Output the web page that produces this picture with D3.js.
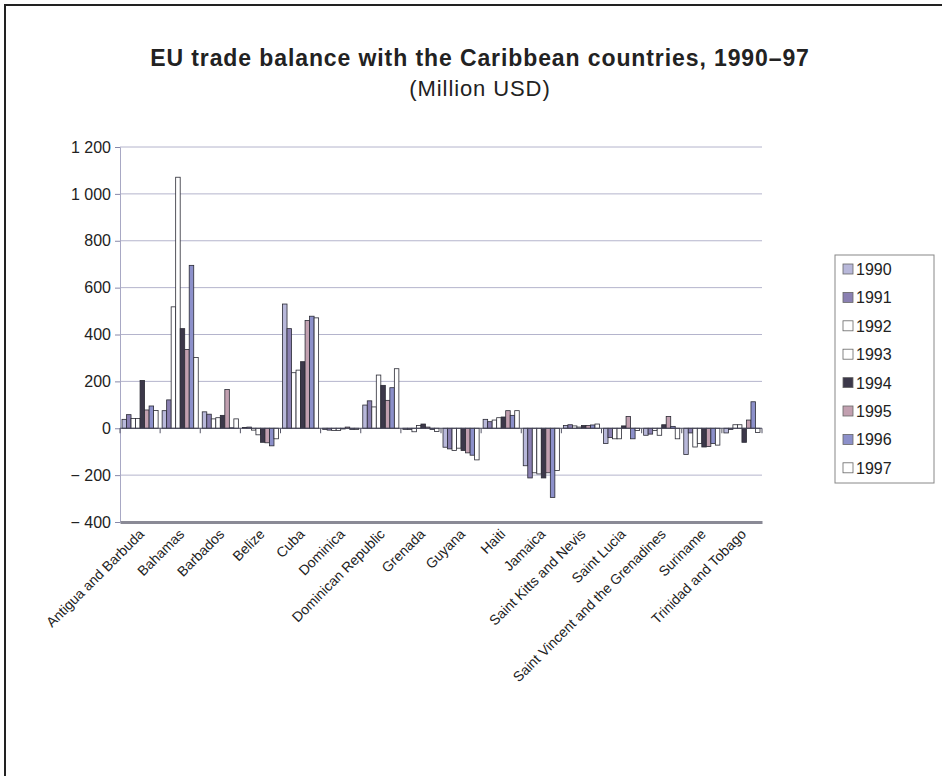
<!DOCTYPE html>
<html>
<head>
<meta charset="utf-8">
<script src="https://cdn.jsdelivr.net/npm/d3@7"></script>
<style>
  html, body { margin: 0; padding: 0; background: #fff; overflow: hidden; }
  svg { display: block; font-family: "Liberation Sans", Arial, sans-serif; }
</style>
</head>
<body>
<svg id="chart" width="942" height="776"></svg>
<script>
// Countries along the category axis
const countries = [
  "Antigua and Barbuda", "Bahamas", "Barbados", "Belize", "Cuba", "Dominica",
  "Dominican Republic", "Grenada", "Guyana", "Haiti", "Jamaica",
  "Saint Kitts and Nevis", "Saint Lucia", "Saint Vincent and the Grenadines",
  "Suriname", "Trinidad and Tobago"
];

const years = ["1990", "1991", "1992", "1993", "1994", "1995", "1996", "1997"];

// Trade balance per year, one value per country (million USD)
const v1990 = [38, 75, 70, 3, 530, -5, 99, -5, -81, 38, -160, 12, -65, -30, -112, -20];
const v1991 = [58, 121, 60, 5, 425, -8, 117, -5, -88, 28, -212, 15, -40, -25, -20, -5];
const v1992 = [42, 518, 40, -8, 237, -10, 91, -15, -95, 35, -190, 10, -45, -10, -80, 15];
const v1993 = [42, 1071, 45, -28, 248, -10, 227, 12, -85, 45, -195, 5, -45, -30, -65, 15];
const v1994 = [204, 425, 55, -60, 284, -3, 183, 18, -95, 48, -212, 12, 10, 15, -80, -60];
const v1995 = [78, 336, 165, -62, 460, 5, 119, 5, -105, 75, -190, 12, 50, 50, -78, 35];
const v1996 = [95, 695, 2, -75, 478, -5, 173, -5, -115, 55, -295, 14, -45, 8, -65, 113];
const v1997 = [76, 302, 40, -45, 471, -5, 254, -14, -135, 75, -180, 18, -10, -45, -72, -18];

const seriesValues = [v1990, v1991, v1992, v1993, v1994, v1995, v1996, v1997];

const yTicks = [-400, -200, 0, 200, 400, 600, 800, 1000, 1200];
const yTickLabels = ["\u2212 400", "\u2212 200", "0", "200", "400", "600", "800", "1 000", "1 200"];

const fills = ["#b8b8da", "#8a80b2", "#ffffff", "#ffffff", "#3c384a", "#c2a0b0", "#8c90ca", "#ffffff"];

const svg = d3.select("#chart");

// Page frame (left and top edges; the rest runs off the page)
svg.append("path")
  .attr("d", "M5,780 V5 H950")
  .attr("fill", "none").attr("stroke", "#222").attr("stroke-width", 2);

// Titles
svg.append("text")
  .attr("x", 480).attr("y", 66)
  .attr("text-anchor", "middle")
  .attr("font-size", 23).attr("font-weight", "bold").attr("fill", "#222")
  .attr("letter-spacing", 0.9)
  .text("EU trade balance with the Caribbean countries, 1990\u201397");
svg.append("text")
  .attr("x", 480).attr("y", 96)
  .attr("text-anchor", "middle")
  .attr("font-size", 22).attr("fill", "#222")
  .attr("letter-spacing", 0.9)
  .text("(Million USD)");

const plotLeft = 120, plotRight = 762, plotTop = 147, plotBottom = 522;

const x0 = d3.scaleBand().domain(countries).range([plotLeft, plotRight])
  .paddingInner(0.1).paddingOuter(0.05);
const x1 = d3.scaleBand().domain(years).range([0, x0.bandwidth()]);
const y = d3.scaleLinear().domain([-400, 1200]).range([plotBottom, plotTop]);

// Horizontal gridlines
svg.append("g").selectAll("line")
  .data(yTicks.filter(t => t !== -400 && t !== 0))
  .join("line")
  .attr("x1", plotLeft).attr("x2", plotRight)
  .attr("y1", d => y(d)).attr("y2", d => y(d))
  .attr("stroke", "#b4b4cc").attr("stroke-width", 1);

// Value axis
const yAxis = d3.axisLeft(y)
  .tickValues(yTicks)
  .tickFormat((d, i) => yTickLabels[i])
  .tickSize(5).tickPadding(4);
const gy = svg.append("g").attr("transform", `translate(${plotLeft},0)`).call(yAxis);
gy.select(".domain").attr("stroke", "#a8a8c4");
gy.selectAll(".tick line").attr("stroke", "#8888a8");
gy.selectAll(".tick text")
  .attr("font-size", 16).attr("fill", "#222")
  .attr("font-family", "Liberation Sans, Arial, sans-serif");

// Bars
const groups = svg.append("g").selectAll("g")
  .data(countries)
  .join("g")
  .attr("transform", d => `translate(${x0(d)},0)`);

groups.selectAll("rect")
  .data((c, ci) => years.map((yr, si) => ({ yr, si, v: seriesValues[si][ci] })))
  .join("rect")
  .attr("x", d => x1(d.yr))
  .attr("width", x1.bandwidth())
  .attr("y", d => y(Math.max(0, d.v)))
  .attr("height", d => Math.abs(y(d.v) - y(0)))
  .attr("fill", d => fills[d.si])
  .attr("stroke", "#2a2a34").attr("stroke-width", 0.8);

// Zero line with category tick marks
svg.append("line")
  .attr("x1", plotLeft).attr("x2", plotRight)
  .attr("y1", y(0)).attr("y2", y(0))
  .attr("stroke", "#444458").attr("stroke-width", 1);
const boundaries = countries.map(c => x0(c) - x0.step() * x0.paddingInner() / 2)
  .concat([plotRight]);
svg.append("g").selectAll("line")
  .data(boundaries)
  .join("line")
  .attr("x1", d => d).attr("x2", d => d)
  .attr("y1", y(0)).attr("y2", y(0) + 5)
  .attr("stroke", "#555566");

// Bottom category axis
const xAxis = d3.axisBottom(x0).tickSize(0).tickPadding(0);
const gx = svg.append("g").attr("transform", `translate(0,${plotBottom})`).call(xAxis);
gx.select(".domain").attr("stroke", "#8a8a96").attr("stroke-width", 3);
gx.selectAll(".tick text")
  .attr("font-size", 14).attr("fill", "#222")
  .attr("font-family", "Liberation Sans, Arial, sans-serif")
  .attr("text-anchor", "end")
  .attr("dy", 0)
  .attr("transform", "translate(5,13) rotate(-45)");

// Legend
const lg = svg.append("g");
lg.append("rect")
  .attr("x", 835).attr("y", 255).attr("width", 99).attr("height", 228)
  .attr("fill", "#fff").attr("stroke", "#888").attr("stroke-width", 1);
const items = lg.selectAll("g.item")
  .data(years)
  .join("g")
  .attr("class", "item")
  .attr("transform", (d, i) => `translate(843,${269 + i * 28.4})`);
items.append("rect")
  .attr("x", 0).attr("y", -5).attr("width", 10).attr("height", 10)
  .attr("fill", (d, i) => fills[i])
  .attr("stroke", "#666").attr("stroke-width", 0.8);
items.append("text")
  .attr("x", 13).attr("y", 6)
  .attr("font-size", 16).attr("fill", "#222")
  .text(d => d);
</script>
</body>
</html>
